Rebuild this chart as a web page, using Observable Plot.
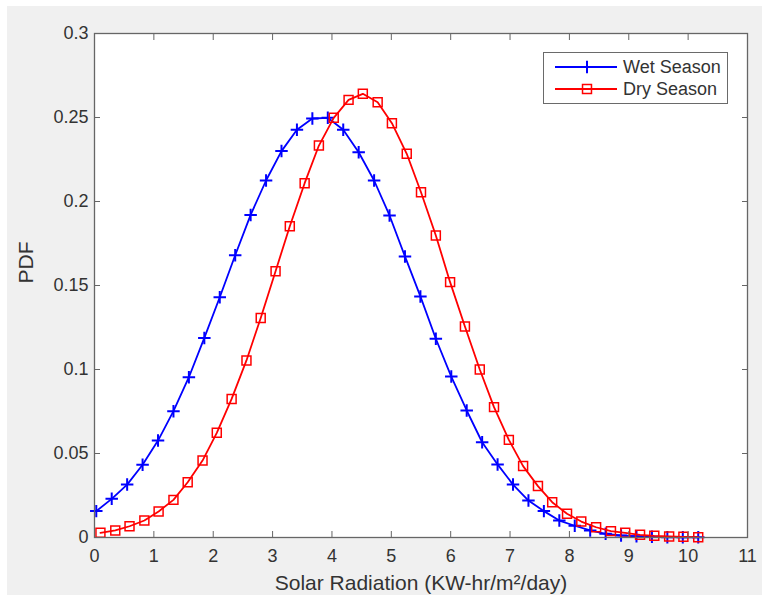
<!DOCTYPE html>
<html>
<head>
<meta charset="utf-8">
<script src="https://cdn.jsdelivr.net/npm/d3@7"></script>
<script src="https://cdn.jsdelivr.net/npm/@observablehq/plot@0.6"></script>
<style>
  html, body { margin: 0; padding: 0; background: #ffffff; }
  #wrap { position: relative; width: 762px; height: 598px; overflow: hidden; }
  #wrap svg.plot { position: absolute; left: 0; top: 0; clip-path: inset(6px 0 3px 7px); }
  #legend { position: absolute; left: 543px; top: 52px; width: 185px; height: 52px; box-sizing: border-box;
            border: 1.3px solid #6a6a6a; background: #ffffff; }
  #legend svg { display: block; }
</style>
</head>
<body>
<div id="wrap"></div>
<script>
// ---- data ----
const seriesNames = ["Wet Season", "Dry Season"];

const wetX = [0.03,0.29,0.55,0.81,1.07,1.33,1.59,1.85,2.11,2.37,2.63,2.89,3.15,3.41,3.67,3.93,4.19,4.45,4.71,4.97,
              5.23,5.49,5.75,6.01,6.27,6.53,6.79,7.05,7.31,7.57,7.83,8.09,8.35,8.61,8.87,9.13,9.39,9.65,9.91,10.17];
const wetPDF = [0.0157,0.0230,0.0315,0.0433,0.0577,0.0752,0.0954,0.1188,0.1430,0.1680,0.1920,0.2125,0.2300,0.2427,0.2494,0.2498,
                0.2427,0.2293,0.2125,0.1917,0.1673,0.1435,0.1183,0.0958,0.0756,0.0567,0.0435,0.0315,0.0220,0.0157,
                0.0101,0.0070,0.0042,0.0022,0.0012,0.0007,0.0004,0.0002,0.0001,0.0001];

const dryX = [0.10,0.35,0.59,0.84,1.08,1.33,1.57,1.82,2.06,2.31,2.56,2.80,3.05,3.29,3.54,3.78,4.03,4.28,4.52,4.77,5.01,
              5.26,5.50,5.75,5.99,6.24,6.49,6.73,6.98,7.22,7.47,7.71,7.96,8.20,8.45,8.70,8.94,9.19,9.43,9.68,9.92,10.17];
const dryPDF = [0.0028,0.0042,0.0067,0.0101,0.0155,0.0224,0.0329,0.0458,0.0623,0.0825,0.1054,0.1307,0.1585,0.1853,0.2109,0.2333,
                0.2498,0.2605,0.2641,0.2591,0.2466,0.2284,0.2055,0.1798,0.1520,0.1256,0.1000,0.0776,0.0581,0.0425,
                0.0306,0.0210,0.0141,0.0095,0.0061,0.0038,0.0028,0.0016,0.0010,0.0006,0.0004,0.0002];

const xTicks = [0,1,2,3,4,5,6,7,8,9,10,11];
const xTickLabels = ["0","1","2","3","4","5","6","7","8","9","10","11"];
const yTicks = [0,0.05,0.1,0.15,0.2,0.25,0.3];
const yTickLabels = ["0","0.05","0.1","0.15","0.2","0.25","0.3"];
const xLabel = "Solar Radiation (KW-hr/m²/day)";
const yLabel = "PDF";

// ---- build tables ----
const wet = wetX.map((x, i) => ({x, y: wetPDF[i]}));
const dry = dryX.map((x, i) => ({x, y: dryPDF[i]}));

const axisColor = "#666666";
const textColor = "#333333";
const blue = "#0000ff";
const red = "#ff0000";
const plusR = 4.1;
const squareR = 5.7;

const chart = Plot.plot({
  width: 762,
  height: 598,
  marginLeft: 94,
  marginRight: 15,
  marginTop: 33,
  marginBottom: 61,
  style: { background: "#f0f0f0", fontFamily: "'Liberation Sans', Arial, Helvetica, sans-serif", color: textColor },
  x: { domain: [0, 11] },
  y: { domain: [0, 0.3] },
  marks: [
    Plot.frame({ fill: "white", stroke: null }),
    Plot.line(wet, { x: "x", y: "y", stroke: blue, strokeWidth: 1.8 }),
    Plot.dot(wet, { x: "x", y: "y", symbol: "plus", r: plusR, stroke: blue, strokeWidth: 2 }),
    Plot.line(dry, { x: "x", y: "y", stroke: red, strokeWidth: 1.8 }),
    Plot.dot(dry, { x: "x", y: "y", symbol: "square2", r: squareR, stroke: red, fill: "none", strokeWidth: 1.5 }),
    // inward ticks on all four sides
    Plot.axisX({ anchor: "bottom", ticks: xTicks, tickSize: -6, tickFormat: () => "", label: null, stroke: axisColor }),
    Plot.axisX({ anchor: "top", ticks: xTicks, tickSize: -6, tickFormat: () => "", label: null, stroke: axisColor }),
    Plot.axisY({ anchor: "left", ticks: yTicks, tickSize: -6, tickFormat: () => "", label: null, stroke: axisColor }),
    Plot.axisY({ anchor: "right", ticks: yTicks, tickSize: -6, tickFormat: () => "", label: null, stroke: axisColor }),
    // tick labels
    Plot.axisX({ anchor: "bottom", ticks: xTicks, tickSize: 0, tickPadding: 12, label: null, fontSize: 18, fill: textColor,
                 tickFormat: (d, i) => xTickLabels[i] }),
    Plot.axisY({ anchor: "left", ticks: yTicks, tickSize: 0, tickPadding: 6, label: null, fontSize: 18, fill: textColor,
                 tickFormat: (d, i) => yTickLabels[i] }),
    // axis titles
    Plot.text([xLabel], { text: d => d, frameAnchor: "bottom", dy: 38, lineAnchor: "top", fontSize: 21, fill: textColor }),
    Plot.text([yLabel], { text: d => d, frameAnchor: "left", dx: -76, dy: -2, rotate: -90, lineAnchor: "top", fontSize: 21, fill: textColor }),
    Plot.frame({ stroke: axisColor, strokeWidth: 1.3 })
  ]
});
chart.classList.add("plot");
const wrap = document.getElementById("wrap");
wrap.appendChild(chart);

// ---- legend ----
const legendRows = [
  { name: seriesNames[0], color: blue, symbol: d3.symbolPlus, size: Math.PI * plusR * plusR, sw: 2 },
  { name: seriesNames[1], color: red, symbol: d3.symbolSquare2, size: Math.PI * squareR * squareR, sw: 1.5 }
];
const ns = "http://www.w3.org/2000/svg";
const leg = document.createElement("div");
leg.id = "legend";
const lsvg = document.createElementNS(ns, "svg");
lsvg.setAttribute("width", 183);
lsvg.setAttribute("height", 50);
legendRows.forEach((r, i) => {
  const cy = 14 + i * 22;
  const ln = document.createElementNS(ns, "line");
  ln.setAttribute("x1", 11); ln.setAttribute("x2", 73);
  ln.setAttribute("y1", cy); ln.setAttribute("y2", cy);
  ln.setAttribute("stroke", r.color); ln.setAttribute("stroke-width", 1.8);
  lsvg.appendChild(ln);
  const mk = document.createElementNS(ns, "path");
  mk.setAttribute("d", d3.symbol(r.symbol, r.size)());
  mk.setAttribute("transform", `translate(43,${cy})`);
  mk.setAttribute("stroke", r.color); mk.setAttribute("fill", "none"); mk.setAttribute("stroke-width", r.sw);
  lsvg.appendChild(mk);
  const tx = document.createElementNS(ns, "text");
  tx.setAttribute("x", 79); tx.setAttribute("y", cy);
  tx.setAttribute("dy", "0.34em");
  tx.setAttribute("font-size", 18);
  tx.setAttribute("font-family", "'Liberation Sans', Arial, Helvetica, sans-serif");
  tx.setAttribute("fill", textColor);
  tx.textContent = r.name;
  lsvg.appendChild(tx);
});
leg.appendChild(lsvg);
wrap.appendChild(leg);
</script>
</body>
</html>
